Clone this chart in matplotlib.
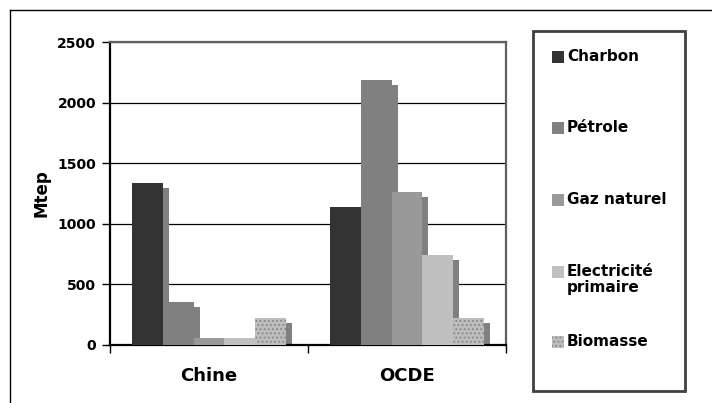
import numpy as np
import matplotlib.pyplot as plt
from matplotlib.patches import Rectangle
from matplotlib.lines import Line2D

plt.rcParams['font.family'] = ['DejaVu Sans']
plt.rcParams['font.weight'] = 'bold'
plt.rcParams['hatch.linewidth'] = 0.8

regions = ["Chine", "OCDE"]
sources = ["Charbon", "Pétrole", "Gaz naturel", "Electricité\nprimaire", "Biomasse"]
charbon = [1340, 1140]
petrole = [355, 2185]
gaz = [58, 1262]
electricite = [58, 742]
biomasse = [222, 222]
values = [charbon, petrole, gaz, electricite, biomasse]

colors = ["#333333", "#808080", "#999999", "#c0c0c0", "#bdbdbd"]
hatches = [None, None, None, None, "...."]
shadow = "#808080"

W, H = 712, 403
fig = plt.figure(figsize=(W / 100, H / 100), dpi=100)
ax = fig.add_axes([110 / W, 1 - 345 / H, 396 / W, 303 / H])

x = np.arange(len(regions))
bw = 0.155
dx = 0.03   # shadow offset (category units)
dy = 41     # shadow drop (data units)

# shadows first, bars on top
for i, vals in enumerate(values):
    pos = x + (i - 2) * bw + dx
    ax.bar(pos, np.maximum(np.array(vals) - dy, 0), bw, color=shadow, linewidth=0, zorder=2)
for i, vals in enumerate(values):
    pos = x + (i - 2) * bw
    ax.bar(pos, vals, bw, color=colors[i], hatch=hatches[i], edgecolor="#858585",
           linewidth=0, zorder=3)

ax.set_xlim(-0.5, 1.5)
ax.set_ylim(0, 2500)
ax.set_yticks([0, 500, 1000, 1500, 2000, 2500])
ax.yaxis.grid(True, color="black", linewidth=0.9)
ax.set_axisbelow(True)
ax.tick_params(axis="y", direction="out", length=6, width=1, pad=4, labelsize=10)
ax.set_xticks(x)
ax.set_xticklabels(regions, fontsize=13, fontweight="bold")
ax.tick_params(axis="x", length=0, pad=16)
ax.set_xticks([-0.5, 0.5, 1.5], minor=True)
ax.tick_params(axis="x", which="minor", direction="out", length=6, width=1)
for s in ["left", "bottom"]:
    ax.spines[s].set_linewidth(1.6)
    ax.spines[s].set_color("black")
for s in ["top", "right"]:
    ax.spines[s].set_linewidth(1.6)
    ax.spines[s].set_color("#606060")

fig.text(41 / W, 1 - 193 / H, "Mtep", rotation=90, ha="center", va="center",
         fontsize=12, fontweight="bold")

# outer frame
fig.add_artist(Line2D([10 / W, 1], [1 - 10 / H, 1 - 10 / H], color="black", linewidth=1))
fig.add_artist(Line2D([10 / W, 10 / W], [0, 1 - 10 / H], color="black", linewidth=1))

# legend box
fig.add_artist(Rectangle((533 / W, 1 - 391 / H), 152 / W, 360 / H, transform=fig.transFigure,
                         facecolor="white", edgecolor="#404040", linewidth=2))
ys = [57, 128, 200, 272, 342]
for i, name in enumerate(sources):
    fig.add_artist(Rectangle((552 / W, 1 - (ys[i] + 6) / H), 12 / W, 12 / H,
                             transform=fig.transFigure, facecolor=colors[i],
                             hatch=hatches[i], edgecolor="#858585", linewidth=0))
    fig.text(567 / W, 1 - (ys[i] - 8) / H, name, ha="left", va="top",
             fontsize=11, fontweight="bold", linespacing=1.1)

fig.savefig("out.png", dpi=100)
